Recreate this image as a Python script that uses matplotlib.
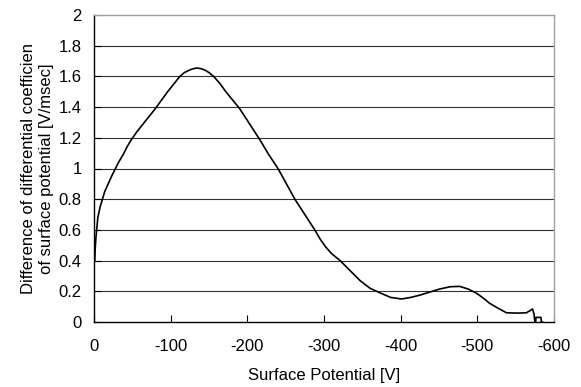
#!/usr/bin/env python3
"""surface potential difference curve"""
import matplotlib
matplotlib.use('Agg')
import matplotlib.pyplot as plt

potential = [-1, -1.5, -2.5, -3.5, -5, -8, -11, -14, -18.5, -23, -27, -32,
             -38, -43, -49, -56, -64, -72, -80, -88, -96, -104, -112, -118,
             -124, -128, -134, -140, -145, -150, -156, -164, -172, -181, -190,
             -203, -216, -228, -240, -251, -262, -275, -288, -295, -302, -310,
             -321, -335, -347, -360, -373, -387, -401, -413, -425, -438, -451,
             -465, -477, -488, -499, -508, -516, -527, -538, -552, -564, -569,
             -572, -574, -575, -576, -576.5, -583, -583.5, -585]
diff_coef = [0.40, 0.47, 0.55, 0.60, 0.68, 0.75, 0.80, 0.85, 0.90, 0.95, 0.99,
             1.04, 1.09, 1.14, 1.19, 1.24, 1.29, 1.34, 1.39, 1.445, 1.50, 1.55,
             1.60, 1.625, 1.64, 1.648, 1.655, 1.65, 1.64, 1.625, 1.60, 1.555,
             1.50, 1.445, 1.39, 1.29, 1.19, 1.09, 1.00, 0.90, 0.80, 0.70, 0.60,
             0.54, 0.49, 0.445, 0.40, 0.33, 0.27, 0.22, 0.19, 0.16, 0.15, 0.16,
             0.175, 0.195, 0.215, 0.23, 0.232, 0.215, 0.187, 0.155, 0.122,
             0.09, 0.06, 0.058, 0.06, 0.075, 0.085, 0.05, 0.0, 0.0, 0.03, 0.03,
             0.0, 0.0]
xticks = [0, -100, -200, -300, -400, -500, -600]
yticks = [0, 0.2, 0.4, 0.6, 0.8, 1, 1.2, 1.4, 1.6, 1.8, 2]

plt.rcParams['font.family'] = ['Liberation Sans', 'DejaVu Sans']
fig = plt.figure(figsize=(5.81, 3.87), dpi=100)
ax = fig.add_axes([94/581, 1-322/387, 460/581, 307/387])

for y in yticks[1:-1]:
    ax.axhline(y, color='#333333', linewidth=0.8, zorder=1)
ax.plot(potential, diff_coef, color='black', linewidth=1.2, zorder=3)

ax.set_xlim(0, -600)
ax.set_ylim(0, 2)
ax.set_xticks(xticks)
ax.set_xticklabels([f'{v:g}' for v in xticks])
ax.set_yticks(yticks)
ax.set_yticklabels([f'{v:g}' for v in yticks])
ax.tick_params(direction='in', length=5, labelsize=12, width=0.8)
ax.tick_params(axis='x', pad=12)
ax.tick_params(axis='y', pad=9)

ax.spines['left'].set_color('black')
ax.spines['bottom'].set_color('black')
ax.spines['top'].set_color('#a0a0a0')
ax.spines['right'].set_color('#a0a0a0')
for s in ax.spines.values():
    s.set_linewidth(1.0)

ax.set_xlabel('Surface Potential [V]', fontsize=12, labelpad=10)
ax.set_ylabel('Difference of differential coefficien\nof surface potential [V/msec]',
              fontsize=12, labelpad=3, linespacing=1.3)

fig.savefig('out.png', dpi=100)
